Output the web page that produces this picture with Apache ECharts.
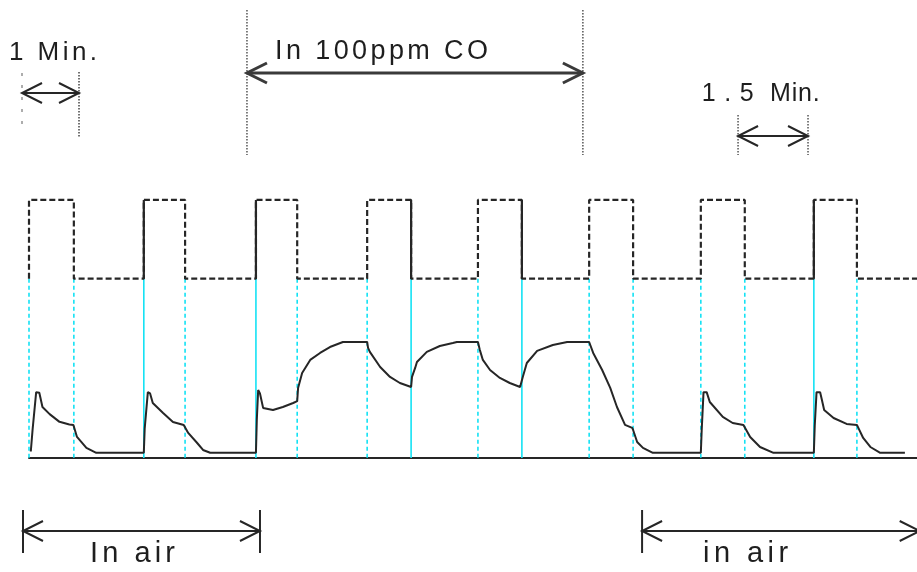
<!DOCTYPE html>
<html>
<head>
<meta charset="utf-8">
<script src="https://cdn.jsdelivr.net/npm/echarts/dist/echarts.min.js"></script>
<style>
html,body{margin:0;padding:0;background:#ffffff;}
#c{width:917px;height:572px;}
</style>
</head>
<body>
<div id="c"></div>
<script>
// ---- data (time in minutes, levels in relative units) ----
const heaterTimes = [0, 1.0, 2.56, 3.48, 5.06, 5.98, 7.54, 8.52, 10.01, 10.99, 12.49, 13.47, 14.98, 15.96, 17.5, 18.46];
const heaterHigh = 20;
const heaterLow = 13.9;
const timeEnd = 19.8;
const solidEdgeTimes = [2.56, 5.06, 8.52, 10.99, 17.5];

const sensorOutput = [
  [0.04, 0.5], [0.08, 2.2], [0.16, 5.1], [0.23, 5.05], [0.3, 3.95], [0.46, 3.4], [0.68, 2.8], [0.9, 2.6], [0.99, 2.56],
  [1.07, 1.63], [1.28, 0.78], [1.5, 0.4], [2.56, 0.4],
  [2.58, 2.3], [2.65, 5.1], [2.7, 5.0], [2.76, 4.26], [2.99, 3.49], [3.21, 2.79], [3.45, 2.56], [3.48, 2.5],
  [3.55, 1.94], [3.75, 1.16], [3.88, 0.62], [4.04, 0.4], [5.06, 0.4],
  [5.08, 3.0], [5.11, 5.27], [5.15, 5.0], [5.22, 3.88], [5.44, 3.72], [5.66, 3.95], [5.89, 4.26], [5.98, 4.4],
  [6.0, 5.43], [6.09, 6.59], [6.27, 7.6], [6.49, 8.14], [6.71, 8.6], [7.0, 8.99], [7.54, 8.99],
  [7.56, 8.53], [7.6, 8.22], [7.83, 7.05], [8.05, 6.28], [8.27, 5.81], [8.52, 5.5],
  [8.54, 6.28], [8.61, 6.98], [8.65, 7.44], [8.87, 8.22], [9.16, 8.68], [9.45, 8.91], [9.54, 8.99], [10.01, 8.99],
  [10.05, 8.4], [10.12, 7.6], [10.28, 6.82], [10.5, 6.2], [10.72, 5.81], [10.95, 5.5], [10.99, 5.5],
  [11.01, 6.28], [11.1, 7.36], [11.33, 8.3], [11.68, 8.76], [12.0, 8.99], [12.49, 8.99],
  [12.58, 8.14], [12.78, 6.82], [12.96, 5.43], [13.11, 3.95], [13.29, 2.56],
  [13.45, 2.33], [13.47, 2.17], [13.56, 1.24], [13.69, 0.78], [13.91, 0.4], [14.98, 0.4],
  [15.0, 2.2], [15.04, 5.1], [15.11, 5.1], [15.18, 4.34], [15.47, 3.18], [15.69, 2.71], [15.93, 2.56], [15.96, 2.5],
  [16.08, 1.63], [16.3, 0.85], [16.6, 0.4], [17.5, 0.4],
  [17.52, 2.5], [17.56, 5.1], [17.64, 5.1], [17.68, 4.5], [17.73, 3.72], [17.94, 3.1], [18.23, 2.64], [18.46, 2.56],
  [18.6, 1.55], [18.76, 0.85], [18.98, 0.4], [19.53, 0.4]
];

// annotation spans (minutes)
const oneMinSpan = [-0.156, 1.115];
const coSpan = [4.86, 12.35];
const onePointFiveSpan = [15.81, 17.37];
const airSpanLeft = [-0.134, 5.15];
const airSpanRight = [13.67, 19.86];
const labels = {
  oneMin: '1 Min.',
  co: 'In 100ppm CO',
  onePointFive: '1 . 5  Min.',
  airLeft: 'In air',
  airRight: 'in air'
};

const FONT = '"Liberation Sans", Arial, Helvetica, sans-serif';
// label typography: font size and the width the spaced-out label spans
const labelType = [
  {text: labels.oneMin, size: 26, width: 88},
  {text: labels.co, size: 27, width: 213},
  {text: labels.onePointFive, size: 25, width: 118},
  {text: labels.airLeft, size: 29, width: 85},
  {text: labels.airRight, size: 29, width: 85}
];

// letter spacing for the wide-set lettering of the original drawing
(function () {
  const probe = document.createElement('canvas').getContext('2d');
  if (!probe || !('letterSpacing' in probe)) return;
  const spacing = {};
  labelType.forEach(l => {
    probe.font = l.size + 'px ' + FONT;
    const w = probe.measureText(l.text).width;
    spacing[l.text] = Math.max(0, (l.width - w) / (l.text.length - 1));
  });
  const proto = CanvasRenderingContext2D.prototype;
  const orig = proto.fillText;
  proto.fillText = function (text, x, y, maxW) {
    const sp = spacing[text];
    if (sp !== undefined) {
      const prev = this.letterSpacing;
      this.letterSpacing = sp.toFixed(2) + 'px';
      const r = maxW === undefined ? orig.call(this, text, x, y) : orig.call(this, text, x, y, maxW);
      this.letterSpacing = prev;
      return r;
    }
    return maxW === undefined ? orig.call(this, text, x, y) : orig.call(this, text, x, y, maxW);
  };
})();

// ---- build heater step line from transition times ----
const heaterLine = [[0, heaterLow]];
heaterTimes.forEach((t, i) => {
  const rising = i % 2 === 0;
  heaterLine.push([t, rising ? heaterLow : heaterHigh]);
  heaterLine.push([t, rising ? heaterHigh : heaterLow]);
});
heaterLine.push([timeEnd, heaterLow]);

const chart = echarts.init(document.getElementById('c'), null, {renderer: 'canvas'});
const INK = '#262626';
const CYAN = '#14e2f4';

chart.setOption({
  animation: false,
  backgroundColor: '#ffffff',
  grid: {left: 29, right: 0, top: 0, bottom: 0},
  xAxis: {
    type: 'value', min: 0, max: timeEnd,
    axisLine: {show: true, onZero: true, lineStyle: {color: INK, width: 2}},
    axisTick: {show: false}, axisLabel: {show: false}, splitLine: {show: false}
  },
  yAxis: {
    type: 'value', min: -8.84, max: 35.5, show: false,
    splitLine: {show: false}
  },
  series: [
    {
      name: 'edges', type: 'custom', z: 1, silent: true,
      data: heaterTimes.map(t => [t]),
      renderItem: (params, api) => {
        const t = api.value(0);
        const p1 = api.coord([t, heaterLow]);
        const p2 = api.coord([t, 0]);
        const solid = solidEdgeTimes.indexOf(t) >= 0;
        return {
          type: 'line',
          shape: {x1: p1[0], y1: p1[1], x2: p2[0], y2: p2[1]},
          style: {stroke: CYAN, lineWidth: 1.6, lineDash: solid ? null : [4, 3]}
        };
      }
    },
    {
      name: 'heater', type: 'line', z: 3, silent: true,
      data: heaterLine, showSymbol: false, symbol: 'none',
      lineStyle: {color: INK, width: 2.2, type: [6, 3]}
    },
    {
      name: 'heaterSolidEdges', type: 'custom', z: 4, silent: true,
      data: solidEdgeTimes.map(t => [t]),
      renderItem: (params, api) => {
        const t = api.value(0);
        const p1 = api.coord([t, heaterLow]);
        const p2 = api.coord([t, heaterHigh]);
        return {
          type: 'line',
          shape: {x1: p1[0], y1: p1[1], x2: p2[0], y2: p2[1]},
          style: {stroke: INK, lineWidth: 2.2}
        };
      }
    },
    {
      name: 'sensor', type: 'line', z: 5, silent: true,
      data: sensorOutput, showSymbol: false, symbol: 'none',
      lineStyle: {color: INK, width: 2}
    }
  ]
});

// ---- annotations placed on the time axis ----
const px = t => chart.convertToPixel({xAxisIndex: 0}, t);
const g = [];
function vline(t, y1, y2, dash, color, w) {
  const x = px(t);
  g.push({type: 'line', silent: true, shape: {x1: x, y1: y1, x2: x, y2: y2},
    style: {stroke: color || '#555', lineWidth: w || 1.5, lineDash: dash}});
}
function arrow(t1, t2, y, w, color) {
  const x1 = px(t1), x2 = px(t2);
  const st = {stroke: color, lineWidth: w, fill: null};
  g.push({type: 'line', silent: true, shape: {x1: x1, y1: y, x2: x2, y2: y}, style: st});
  g.push({type: 'polyline', silent: true, shape: {points: [[x1 + 20, y - 10], [x1, y], [x1 + 20, y + 10]]}, style: st});
  g.push({type: 'polyline', silent: true, shape: {points: [[x2 - 20, y - 10], [x2, y], [x2 - 20, y + 10]]}, style: st});
}
function label(idx, t, yMid) {
  const l = labelType[idx];
  g.push({type: 'text', silent: true, x: px(t), y: yMid,
    style: {text: l.text, font: l.size + 'px ' + FONT, fill: '#1e1e1e', align: 'left', verticalAlign: 'middle'}});
}

// 1 Min.
vline(oneMinSpan[0], 73, 131, [3, 9], '#777', 1.2);
vline(oneMinSpan[1], 72, 137, [1.5, 1.5], '#444', 1.5);
arrow(oneMinSpan[0], oneMinSpan[1], 93, 2, INK);
label(0, -0.446, 52.5);

// In 100ppm CO
vline(coSpan[0], 10, 155, [1.5, 1.5], '#555', 1.5);
vline(coSpan[1], 10, 155, [1.5, 1.5], '#555', 1.5);
arrow(coSpan[0], coSpan[1], 73, 3, '#3a3a3a');
label(1, 5.485, 52);

// 1.5 Min.
vline(onePointFiveSpan[0], 115, 155, [1.5, 1.5], '#555', 1.5);
vline(onePointFiveSpan[1], 115, 155, [1.5, 1.5], '#555', 1.5);
arrow(onePointFiveSpan[0], onePointFiveSpan[1], 136, 2, INK);
label(2, 15.0, 94);

// In air (left)
vline(airSpanLeft[0], 510, 553, null, INK, 2);
vline(airSpanLeft[1], 510, 553, null, INK, 2);
arrow(airSpanLeft[0], airSpanLeft[1], 531, 2, INK);
label(3, 1.36, 554);

// in air (right)
vline(airSpanRight[0], 510, 553, null, INK, 2);
arrow(airSpanRight[0], airSpanRight[1], 531, 2, INK);
label(4, 15.03, 554);

chart.setOption({graphic: g});
</script>
</body>
</html>
